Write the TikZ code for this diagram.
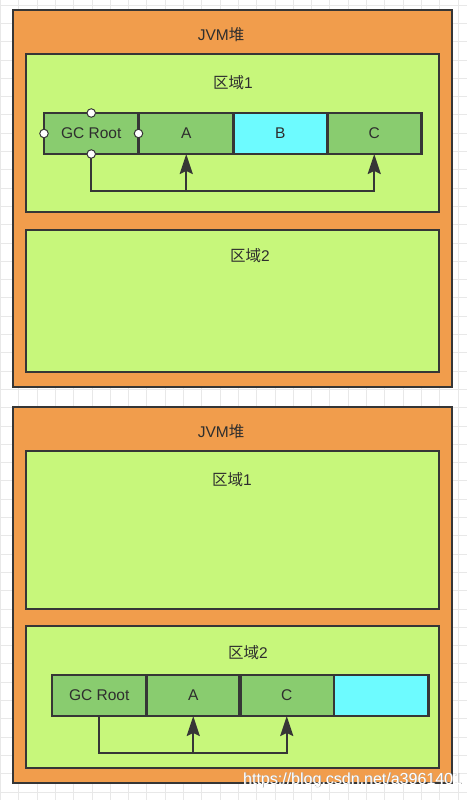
\documentclass[tikz,border=0pt]{standalone}
\usepackage{fontspec}
\setmainfont{Liberation Sans}
\newfontfamily\cjk{Noto Sans CJK SC}
\usetikzlibrary{arrows.meta,calc}
\definecolor{heapfill}{HTML}{F19D4C}
\definecolor{regionfill}{HTML}{C7F77B}
\definecolor{cellfill}{HTML}{89CC6F}
\definecolor{cyanfill}{HTML}{6DFBFF}
\definecolor{strokec}{HTML}{363636}
\definecolor{textc}{HTML}{2E2E2E}
\definecolor{gridc}{HTML}{E8E8E8}
\tikzset{
  heap/.style={draw=strokec, fill=heapfill, line width=2.2pt, anchor=north west, inner sep=0, outer sep=0, minimum width=439, minimum height=377},
  region/.style={draw=strokec, fill=regionfill, line width=2.2pt, anchor=north west, inner sep=0, outer sep=0, minimum width=413},
  cell/.style={fill=cellfill, anchor=north west, inner sep=0, outer sep=0, minimum width=94.5, minimum height=41, text=textc, font=\fontsize{15.5}{18}\selectfont},
  cyancell/.style={cell, fill=cyanfill},
  cellborder/.style={draw=strokec, line width=2.2pt},
  lbl/.style={text=textc, font=\fontsize{15.5}{18}\selectfont, inner sep=0},
  conn/.style={draw=strokec, line width=2.2pt, -{Stealth[length=20pt, width=13pt, inset=3pt]}},
  handle/.style={circle, draw=strokec, fill=white, line width=1pt, minimum size=8.5, inner sep=0},
}
\begin{document}
\begin{tikzpicture}[x=1pt, y=-1pt]
\useasboundingbox (0,0) rectangle (467,800);
\fill[white] (0,0) rectangle (467,800);
% background grid
\foreach \k in {0,...,25} {
  \draw[gridc, line width=0.7pt] ({0.4+18.3*\k},0) -- ({0.4+18.3*\k},800);
}
\foreach \k in {0,...,44} {
  \draw[gridc, line width=0.7pt] (0,{5+18.3*\k}) -- (467,{5+18.3*\k});
}

% ===== top panel =====
\node[heap] (heapA) at (13,10) {};
\node[lbl] (heapAlbl) at (221,35) {JVM{\cjk 堆}};
\node[region, minimum height=158] (rA1) at (26,54) {};
\node[lbl] (rA1lbl) at (233,83) {{\cjk 区域}1};
\node[region, minimum height=142] (rA2) at (26,230) {};
\node[lbl] (rA2lbl) at (250,256) {{\cjk 区域}2};

\node[cell] (gcA) at (44,113) {GC Root};
\node[cell] (aA) at (139,113) {A};
\node[cyancell] (bA) at (233,113) {B};
\node[cell] (cA) at (327,113) {C};
\foreach \n in {gcA,aA,bA,cA} {
  \draw[cellborder] (\n.north west) rectangle (\n.south east);
}

\coordinate (jA) at ($(gcA.south)+(0,37)$);
\draw[conn] (gcA.south) -- (jA) -| (cA.south);
\draw[conn] (jA -| aA.south) -- (aA.south);

\node[handle] (h1) at (gcA.north) {};
\node[handle] (h2) at (gcA.south) {};
\node[handle] (h3) at (gcA.west) {};
\node[handle] (h4) at (gcA.east) {};

% ===== bottom panel =====
\node[heap, minimum height=376] (heapB) at (13,407) {};
\node[lbl] (heapBlbl) at (221,432) {JVM{\cjk 堆}};
\node[region, minimum height=158] (rB1) at (26,451) {};
\node[lbl] (rB1lbl) at (232,480) {{\cjk 区域}1};
\node[region, minimum height=142] (rB2) at (26,626) {};
\node[lbl] (rB2lbl) at (248,653) {{\cjk 区域}2};

\node[cell] (gcB) at (52,675) {GC Root};
\node[cell] (aB) at (146,675) {A};
\node[cell] (cB) at (239.5,675) {C};
\node[cyancell] (dB) at (334,675) {};
\foreach \n in {gcB,aB,cB,dB} {
  \draw[cellborder] (\n.north west) rectangle (\n.south east);
}

\coordinate (jB) at ($(gcB.south)+(0,37)$);
\draw[conn] (gcB.south) -- (jB) -| (cB.south);
\draw[conn] (jB -| aB.south) -- (aB.south);

% watermark
\node[anchor=base west, inner sep=0, text=gray!70, font=\fontsize{16}{18}\selectfont] (wm0) at (243.7,784.7) {https://blog.csdn.net/a3961401};
\node[anchor=base west, inner sep=0, text=white, font=\fontsize{16}{18}\selectfont] (wm) at (243,784) {https://blog.csdn.net/a3961401};
\end{tikzpicture}
\end{document}
